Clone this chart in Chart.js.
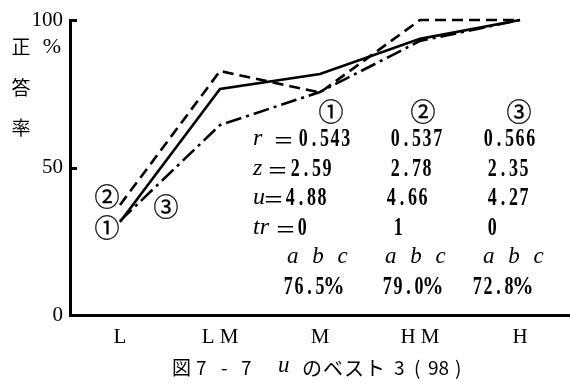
<!DOCTYPE html>
<html>
<head>
<meta charset="utf-8">
<script src="https://cdn.jsdelivr.net/npm/chart.js@4.4.0/dist/chart.umd.min.js"></script>
<style>
  html, body { margin: 0; padding: 0; background: #fff; }
</style>
</head>
<body>
<canvas id="chart" width="570" height="383"></canvas>
<script>
// categories and series (正答率 %)
const levels = ['L', 'L M', 'M', 'H M', 'H'];
const best1 = [31.5, 76.6, 81.7, 93.6, 100];
const best2 = [37.3, 82.7, 75.4, 100, 100];
const best3 = [31.9, 64.4, 75.6, 92.9, 100];
const yTicks = [0, 50, 100];

// stats table
const statLabels = ['r', 'z', 'u', 'tr'];
const rValues = ['0.543', '0.537', '0.566'];
const zValues = ['2.59', '2.78', '2.35'];
const uValues = ['4.88', '4.66', '4.27'];
const trValues = ['0', '1', '0'];
const pctValues = ['76.5%', '79.0%', '72.8%'];
const marks = ['①', '②', '③'];

const serif = '"Liberation Serif", "Times New Roman", serif';
const jp = '"Noto Sans CJK JP", "Noto Sans", sans-serif';

function put(ctx, s, x, y, font, align) {
  ctx.font = font;
  ctx.textAlign = align || 'left';
  ctx.textBaseline = 'middle';
  ctx.fillText(s, x, y);
}

// circled numbers
function mark(ctx, s, x, y) {
  put(ctx, s, x, y, '25px ' + jp, 'center');
  ctx.lineWidth = 0.3;
  ctx.strokeText(s, x, y);
}

// narrow fixed-pitch digits like the printed table
function digits(ctx, s, x, y) {
  ctx.font = 'bold 25px ' + serif;
  ctx.textAlign = 'center';
  ctx.textBaseline = 'middle';
  let cx = x;
  for (const ch of s) {
    const w = ch === '%' ? 17 : 10.6;
    ctx.save();
    ctx.translate(cx + w / 2, y);
    ctx.scale(ch === '%' ? 0.85 : 0.72, 1);
    ctx.fillText(ch, 0, 0);
    ctx.restore();
    cx += w;
  }
}

const textPlugin = {
  id: 'texts',
  afterDraw(chart) {
    const ctx = chart.ctx;
    const ys = chart.scales.y;
    const xs = chart.scales.x;
    ctx.save();
    ctx.fillStyle = '#000';
    ctx.strokeStyle = '#000';

    // inward tick marks on the y axis
    ctx.lineWidth = 3;
    yTicks.slice(1).forEach(v => {
      const py = Math.round(ys.getPixelForValue(v)) + 0.5;
      ctx.beginPath();
      ctx.moveTo(xs.left, py);
      ctx.lineTo(xs.left + 7, py);
      ctx.stroke();
    });

    // y title
    put(ctx, '正', 21, 47, '19px ' + jp, 'center');
    put(ctx, '%', 52, 47, '22px ' + serif, 'center');
    put(ctx, '答', 21, 88, '19px ' + jp, 'center');
    put(ctx, '率', 21, 128, '19px ' + jp, 'center');

    // series marks near L
    mark(ctx, marks[0], 107, 227);
    mark(ctx, marks[1], 107, 196);
    mark(ctx, marks[2], 166, 206);

    // table header
    const colMid = [331, 423, 519];
    marks.forEach((m, i) => mark(ctx, m, colMid[i], 111));

    const rows = [rValues, zValues, uValues, trValues];
    const rowY = [140, 170, 199, 229];
    const eqX = [273, 267, 263, 275];
    const colX = [[298, 390, 483], [290, 390, 487], [285, 386, 487], [297, 393, 487]];
    rows.forEach((vals, r) => {
      put(ctx, statLabels[r], 253, rowY[r] - 1, 'italic 24px ' + serif);
      put(ctx, '＝', eqX[r], rowY[r], '21px ' + jp);
      vals.forEach((v, c) => digits(ctx, v, colX[r][c], rowY[r]));
    });

    const abcX = [287, 385, 483];
    ctx.letterSpacing = '4px';
    abcX.forEach(x => put(ctx, 'a b c', x, 257, 'italic 23px ' + serif));
    ctx.letterSpacing = '0px';
    const pctX = [283, 382, 472];
    pctValues.forEach((v, i) => digits(ctx, v, pctX[i], 288));

    // caption
    const cy = 368;
    put(ctx, '図', 172, cy, '19px ' + jp);
    put(ctx, '7', 196, cy, '19px ' + jp);
    put(ctx, '-', 221, cy, '19px ' + jp);
    put(ctx, '7', 241, cy, '19px ' + jp);
    put(ctx, 'u', 278, cy - 2, 'italic 23px ' + serif);
    ctx.letterSpacing = '1px';
    put(ctx, 'のベスト', 302, cy, '20px ' + jp);
    ctx.letterSpacing = '0px';
    put(ctx, '3', 394, cy, '19px ' + jp);
    put(ctx, '(', 414, cy, '19px ' + jp);
    put(ctx, '98', 428, cy, '19px ' + jp);
    put(ctx, ')', 455, cy, '19px ' + jp);

    ctx.restore();
  }
};

const lineStyle = {
  borderColor: '#000',
  borderWidth: 2.6,
  pointRadius: 0,
  tension: 0,
  fill: false,
  clip: 6,
  borderCapStyle: 'butt',
  borderJoinStyle: 'miter'
};

const ctx = document.getElementById('chart').getContext('2d');
const myChart = new Chart(ctx, {
  type: 'line',
  data: {
    labels: levels,
    datasets: [
      Object.assign({ label: '①', data: best1 }, lineStyle),
      Object.assign({ label: '②', data: best2, borderDash: [11, 6] }, lineStyle),
      Object.assign({ label: '③', data: best3, borderDash: [16, 5, 3, 5] }, lineStyle)
    ]
  },
  options: {
    responsive: false,
    animation: false,
    layout: { padding: { top: 20, right: 0, left: 0, bottom: 0 } },
    plugins: { legend: { display: false }, tooltip: { enabled: false } },
    scales: {
      x: {
        offset: true,
        grid: { display: false, drawTicks: false },
        border: { color: '#000', width: 3 },
        ticks: { color: '#000', font: { family: serif, size: 21 }, padding: 10, maxRotation: 0, autoSkip: false },
        afterFit: s => { s.height = 68; }
      },
      y: {
        min: 0,
        max: 100,
        afterBuildTicks: s => { s.ticks = yTicks.map(v => ({ value: v })); },
        grid: { display: false, drawTicks: false },
        border: { color: '#000', width: 3 },
        ticks: { color: '#000', font: { family: serif, size: 21 }, padding: 7 },
        afterFit: s => { s.width = 70; }
      }
    }
  },
  plugins: [textPlugin]
});
</script>
</body>
</html>
